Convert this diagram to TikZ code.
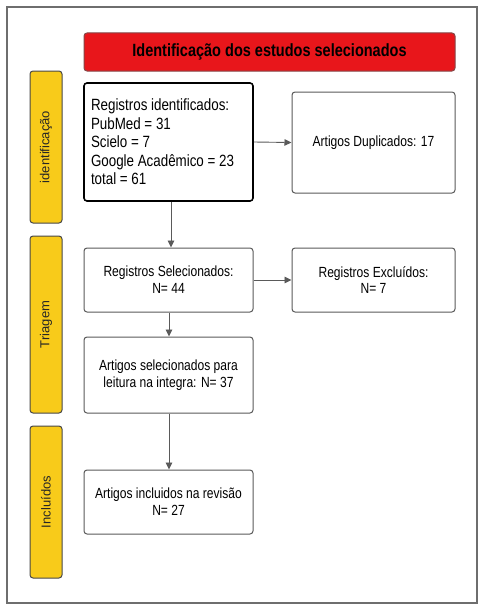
\documentclass[tikz,border=0pt]{standalone}
\usepackage{fontspec}
\setmainfont{Liberation Sans}
\newfontfamily\narrowf[FakeStretch=0.82]{Liberation Sans}
\usetikzlibrary{arrows.meta}
\definecolor{frameg}{HTML}{6E6E6E}
\definecolor{boxg}{HTML}{5A5A5A}
\definecolor{hdrred}{HTML}{E8161B}
\definecolor{barY}{HTML}{F8CB1A}
\tikzset{
  box/.style={draw=boxg, line width=1pt, rounded corners=3pt, fill=white, inner sep=0pt, align=center,
    font=\narrowf\fontsize{14.7}{16.7}\selectfont},
  bar/.style={draw=boxg!80!black, line width=1pt, rounded corners=3pt, fill=barY, inner sep=0pt,
    minimum width=32pt},
  barlabel/.style={rotate=90, font=\fontsize{13}{15}\selectfont, text=black!85},
  conn/.style={draw=boxg, line width=0.9pt, -{Triangle[length=7pt,width=6.5pt]}}
}
\begin{document}
\begin{tikzpicture}[x=1pt,y=-1pt]
\useasboundingbox (0,0) rectangle (485,610);
\fill[white] (0,0) rectangle (485,610);
\draw[frameg, line width=1.2pt] (7,7) rectangle (477,603);
% header
\node[draw=boxg!70!hdrred, line width=1pt, rounded corners=3pt, fill=hdrred, minimum width=371pt, minimum height=38pt,
  inner sep=0pt, font=\narrowf\bfseries\fontsize{17.7}{20}\selectfont] (hdr) at (269.5,52) {Identificação dos estudos selecionados};
% side bars
\node[bar, minimum height=152pt] (bar1) at (46,147) {};
\node[barlabel] (lab1) at (bar1.center) {identificação};
\node[bar, minimum height=177pt] (bar2) at (46,324.5) {};
\node[barlabel] (lab2) at (bar2.center) {Triagem};
\node[bar, minimum height=152pt] (bar3) at (46,502) {};
\node[barlabel] (lab3) at (bar3.center) {Incluídos};
% boxes
\node[box, draw=black, line width=1.6pt, minimum width=169pt, minimum height=118pt, align=left,
  font=\narrowf\fontsize{16.3}{18.5}\selectfont] (b1) at (168.5,142)
  {\begin{minipage}{155pt}Registros identificados:\\PubMed = 31\\Scielo = 7\\Google Acadêmico = 23\\total = 61\end{minipage}};
\node[box, minimum width=163pt, minimum height=101pt] (dup) at (373.5,142.5) {Artigos Duplicados: 17};
\node[box, minimum width=169pt, minimum height=64pt] (sel) at (168.5,280) {Registros Selecionados:\\N= 44};
\node[box, minimum width=163pt, minimum height=64pt] (exc) at (373.5,280) {Registros Excluídos:\\N= 7};
\node[box, minimum width=169pt, minimum height=76pt] (art) at (168.5,375) {Artigos selecionados para\\leitura na integra: N= 37};
\node[box, minimum width=169pt, minimum height=64pt] (inc) at (168.5,502) {Artigos incluidos na revisão\\N= 27};
% connectors
\draw[conn] (b1.east) -- (dup.west);
\draw[conn] (b1.south -| 171,0) -- (sel.north -| 171,0);
\draw[conn] (sel.east) -- (exc.west);
\draw[conn] (sel.south -| 169,0) -- (art.north -| 169,0);
\draw[conn] (art.south -| 169,0) -- (inc.north -| 169,0);
\end{tikzpicture}
\end{document}
